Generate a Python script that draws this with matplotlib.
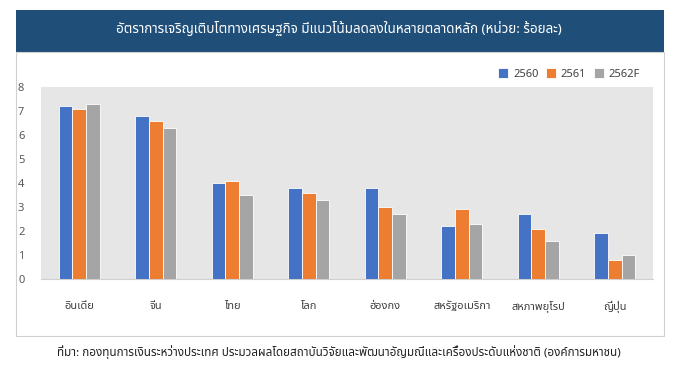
import matplotlib
matplotlib.use('Agg')
import matplotlib.pyplot as plt
from matplotlib.patches import Rectangle
import numpy as np

plt.rcParams['font.family'] = ['Noto Sans Thai', 'DejaVu Sans']

categories = ['อินเดีย', 'จีน', 'ไทย', 'โลก', 'ฮ่องกง', 'สหรัฐอเมริกา', 'สหภาพยุโรป', 'ญี่ปุ่น']
series_names = ['2560', '2561', '2562F']
v2560 = [7.2, 6.8, 4.0, 3.8, 3.8, 2.2, 2.7, 1.9]
v2561 = [7.1, 6.6, 4.1, 3.6, 3.0, 2.9, 2.1, 0.8]
v2562F = [7.3, 6.3, 3.5, 3.3, 2.7, 2.3, 1.6, 1.0]
colors = ['#4472c4', '#ed7d31', '#a5a5a5']
yticks = [0, 1, 2, 3, 4, 5, 6, 7, 8]

title = 'อัตราการเจริญเติบโตทางเศรษฐกิจ มีแนวโน้มลดลงในหลายตลาดหลัก (หน่วย: ร้อยละ)'
source = 'ที่มา: กองทุนการเงินระหว่างประเทศ ประมวลผลโดยสถาบันวิจัยและพัฒนาอัญมณีและเครื่องประดับแห่งชาติ (องค์การมหาชน)'

W, H = 678, 368
fig = plt.figure(figsize=(W/100, H/100), dpi=100)

# title banner
fig.patches.append(Rectangle((16/W, 1-52/H), 648/W, 42/H, transform=fig.transFigure,
                             facecolor='#1f4e79', edgecolor='none', zorder=-2))
# chart panel border
fig.patches.append(Rectangle((16/W, 1-336/H), 648/W, 284/H, transform=fig.transFigure,
                             facecolor='white', edgecolor='#d0d0d0', lw=0.8, zorder=-2))
fig.text(0.5, 1-29/H, title, color='white', fontsize=9.7, fontweight='semibold',
         ha='center', va='center')

ax = fig.add_axes([41/W, 1-279/H, 612/W, 192/H])
ax.set_zorder(2)
ax.set_facecolor('#e7e6e6')
x = np.arange(len(categories))
bw = 0.177
for i, (vals, c, name) in enumerate(zip([v2560, v2561, v2562F], colors, series_names)):
    ax.bar(x + (i-1)*bw, vals, bw, color=c, edgecolor='white', linewidth=0.6, label=name, zorder=3)

ax.set_xlim(-0.5, len(categories)-0.5)
ax.set_ylim(0, 8)
ax.set_yticks(yticks)
ax.set_xticks(x)
ax.set_xticklabels(categories, fontsize=8, color='#404040')
ax.tick_params(axis='y', length=0, pad=12, labelsize=8, labelcolor='#595959')
ax.tick_params(axis='x', length=0, pad=16)
for s in ['top', 'right', 'left']:
    ax.spines[s].set_visible(False)
ax.spines['bottom'].set_color('#d0d0d0')

leg = fig.legend(loc='center', bbox_to_anchor=(569/W, 1-74/H), ncol=3, frameon=False,
                 fontsize=8, handlelength=0.9, handleheight=0.9, handletextpad=0.4,
                 columnspacing=0.7, borderaxespad=0)
for t in leg.get_texts():
    t.set_color('#404040')

fig.text(0.5, 1-352/H, source, fontsize=8.4, ha='center', va='center', color='#202020')

fig.savefig('out.png', dpi=100)
